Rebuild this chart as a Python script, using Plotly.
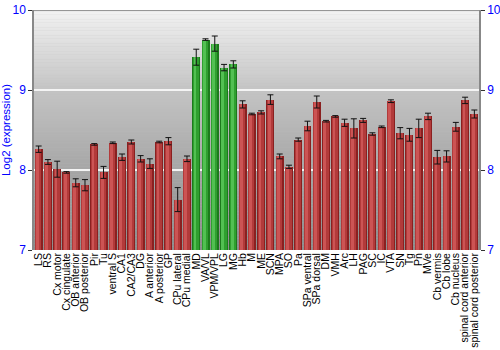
import plotly.graph_objects as go

categories = ["LS", "RS", "Cx motor", "Cx cingulate", "OB anterior", "OB posterior", "Pir", "Tu",
              "ventral S", "CA1", "CA2/CA3", "DG", "A anterior", "A posterior", "GP", "CPu lateral",
              "CPu medial", "MD", "VA/VL", "VPM/VPL", "LG", "MG", "Hb", "M", "ME", "SCN", "MPA",
              "SO", "Pa", "SPa ventral", "SPa dorsal", "DM", "VMH", "Arc", "LH", "PAG", "SC", "IC",
              "VTA", "SN", "Tg", "Pn", "MVe", "Cb vermis", "Cb lobe", "Cb nucleus",
              "spinal cord anterior", "spinal cord posterior"]
values = [8.26, 8.10, 8.01, 7.97, 7.84, 7.81, 8.32, 7.97, 8.34, 8.16, 8.35, 8.14, 8.08, 8.35,
          8.36, 7.63, 8.14, 9.41, 9.63, 9.58, 9.28, 9.32, 8.82, 8.70, 8.72, 8.88, 8.17, 8.04,
          8.38, 8.55, 8.85, 8.61, 8.67, 8.59, 8.52, 8.62, 8.45, 8.54, 8.86, 8.46, 8.44, 8.52,
          8.67, 8.16, 8.17, 8.54, 8.87, 8.70]
errors = [0.04, 0.03, 0.10, 0.01, 0.05, 0.07, 0.01, 0.075, 0.01, 0.04, 0.025, 0.04, 0.06, 0.01,
          0.045, 0.15, 0.035, 0.10, 0.01, 0.095, 0.04, 0.045, 0.045, 0.01, 0.02, 0.06, 0.03, 0.02,
          0.02, 0.06, 0.075, 0.01, 0.01, 0.045, 0.12, 0.025, 0.015, 0.01, 0.017, 0.07, 0.08, 0.115,
          0.04, 0.085, 0.07, 0.055, 0.04, 0.05]
highlighted = ["MD", "VA/VL", "VPM/VPL", "LG", "MG"]

y_range = [7, 10]
y_ticks = [7, 8, 9, 10]

is_green = [c in highlighted for c in categories]
dark = ["#1c7a1c" if g else "#8a2020" for g in is_green]
mid = ["#2f9f2f" if g else "#b23a3a" for g in is_green]
light = ["#52c052" if g else "#cc5454" for g in is_green]

fig = go.Figure()

fig.add_trace(go.Bar(x=categories, y=values, width=0.86, offset=-0.43,
                     marker=dict(color=dark, line=dict(width=0)), hoverinfo="skip"))
fig.add_trace(go.Bar(x=categories, y=values, width=0.66, offset=-0.38,
                     marker=dict(color=mid, line=dict(width=0)), hoverinfo="skip"))
fig.add_trace(go.Bar(x=categories, y=values, width=0.3, offset=-0.28,
                     marker=dict(color=light, line=dict(width=0)), hoverinfo="skip"))
fig.add_trace(go.Scatter(x=categories, y=values, mode="markers",
                         marker=dict(size=1, color="rgba(0,0,0,0)"),
                         error_y=dict(type="data", array=errors, color="#111111",
                                      thickness=1, width=3),
                         hoverinfo="skip"))
fig.add_trace(go.Scatter(x=categories, y=values, mode="markers", yaxis="y2",
                         marker=dict(size=1, color="rgba(0,0,0,0)"), hoverinfo="skip"))

# background vertical gradient
stops = [(10.0, 242), (9.0, 196), (8.0, 166), (7.0, 140)]
n = 150
shapes = []
for i in range(n):
    y0 = y_range[0] + (y_range[1] - y_range[0]) * i / n
    y1 = y_range[0] + (y_range[1] - y_range[0]) * (i + 1) / n
    ym = (y0 + y1) / 2
    for (ya, ga), (yb, gb) in zip(stops[:-1], stops[1:]):
        if yb <= ym <= ya:
            g = gb + (ga - gb) * (ym - yb) / (ya - yb)
            break
    g = int(round(g))
    shapes.append(dict(type="rect", xref="paper", yref="y", x0=0, x1=1, y0=y0, y1=y1 + 0.005,
                       fillcolor=f"rgb({g},{g},{g})", line=dict(width=0), layer="below"))

fig.update_layout(
    width=500, height=350,
    margin=dict(l=34, r=21, t=10, b=100, autoexpand=False),
    paper_bgcolor="white", plot_bgcolor="#bbbbbb",
    barmode="overlay", bargap=0.0, showlegend=False,
    shapes=shapes,
    font=dict(family="Liberation Sans, Arial, sans-serif"),
    xaxis=dict(type="category", tickangle=-90, tickfont=dict(size=10.5, color="black"),
               tickmode="array", tickvals=categories, ticktext=categories,
               showgrid=False, ticks="", showline=False, zeroline=False, automargin=False,
               range=[-0.5, len(categories) - 0.5]),
    yaxis=dict(range=y_range, tickvals=y_ticks, tickfont=dict(size=12, color="#0000ff"),
               ticks="outside", ticklen=4, tickcolor="#333333", showline=True,
               linecolor="#888888", linewidth=1.5, mirror=False, showgrid=True,
               gridcolor="#f4f4f4", gridwidth=1.5, zeroline=False, automargin=False,
               title=dict(text="Log2 (expression)", font=dict(size=11.5, color="#0000ff"), standoff=8)),
    yaxis2=dict(range=y_range, tickvals=y_ticks, overlaying="y", side="right",
                tickfont=dict(size=12, color="#0000ff"), ticks="outside", ticklen=4,
                tickcolor="#333333", showline=True, linecolor="#888888", linewidth=1.5,
                showgrid=False, zeroline=False, automargin=False),
)
fig.add_shape(type="line", xref="paper", yref="y", x0=0, x1=1, y0=10, y1=10,
              line=dict(color="#777777", width=1.5))

fig.write_html("out.html")
